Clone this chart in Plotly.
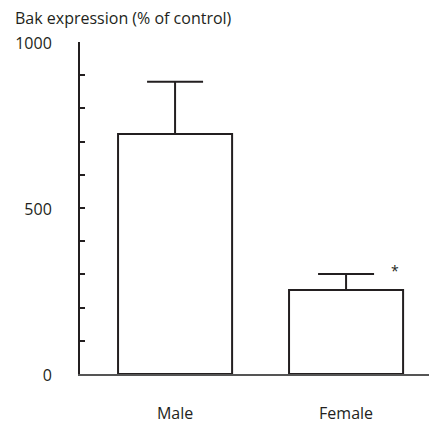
import plotly.graph_objects as go

categories = ["Male", "Female"]
means = [723, 253]
err_upper = [157, 48]
y_tick_vals = [0, 100, 200, 300, 400, 500, 600, 700, 800, 900, 1000]
y_tick_text = ["0", "", "", "", "", "500", "", "", "", "", "1000"]
sig_marks = ["", "*"]

xpos = list(range(len(categories)))
line_col = "#231f20"
fs = 16

fig = go.Figure()
fig.add_trace(go.Bar(
    x=xpos, y=means, width=0.667,
    marker=dict(color="white", line=dict(color=line_col, width=2)),
    error_y=dict(type="data", symmetric=False, array=err_upper,
                 arrayminus=[0] * len(means), color=line_col,
                 thickness=2, width=28),
    showlegend=False,
))

for i, m in enumerate(sig_marks):
    if m:
        fig.add_annotation(x=xpos[i] + 0.287, y=means[i] + err_upper[i] + 10,
                           text=m, showarrow=False,
                           font=dict(size=14, color=line_col))

fig.update_layout(
    width=429, height=423,
    margin=dict(l=80, r=0, t=42, b=49),
    plot_bgcolor="white", paper_bgcolor="white",
    font=dict(family="Open Sans", size=fs, color=line_col),
    xaxis=dict(range=[-0.556, 1.485], tickvals=xpos, ticktext=categories,
               showline=True, linecolor="#555", linewidth=1.5,
               showgrid=False, zeroline=False, ticks="",
               ticklabelstandoff=24, tickfont=dict(size=fs)),
    yaxis=dict(range=[0, 1000], tickvals=y_tick_vals, ticktext=y_tick_text,
               showline=True, linecolor=line_col, linewidth=2,
               ticks="inside", ticklen=5, tickwidth=2, tickcolor=line_col,
               showgrid=False, zeroline=False,
               ticklabelstandoff=23, ticklabelshift=1,
               tickfont=dict(size=fs)),
    annotations=list(fig.layout.annotations) + [dict(
        text="Bak expression (% of control)", xref="paper", yref="paper",
        x=-0.192, y=1.0, yshift=24, xanchor="left", yanchor="middle",
        showarrow=False, font=dict(size=fs, color=line_col))],
)

fig.write_html("out.html")
